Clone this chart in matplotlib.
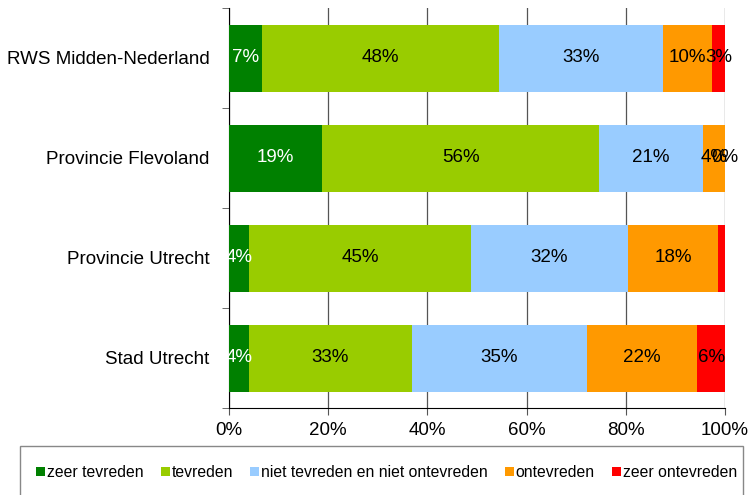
import matplotlib.pyplot as plt
from matplotlib.patches import Rectangle
import numpy as np

plt.rcParams['font.family'] = ['Liberation Sans', 'DejaVu Sans']

categories = ['RWS Midden-Nederland', 'Provincie Flevoland', 'Provincie Utrecht', 'Stad Utrecht']
series = ['zeer tevreden', 'tevreden', 'niet tevreden en niet ontevreden', 'ontevreden', 'zeer ontevreden']
values = [
    [6.6, 18.8, 4.0, 4.0],
    [47.8, 55.8, 44.8, 32.8],
    [33.1, 21.0, 31.6, 35.4],
    [9.9, 4.4, 18.2, 22.2],
    [2.6, 0.0, 1.4, 5.6],
]
colors = ['#008000', '#99cc00', '#99ccff', '#ff9900', '#ff0000']
label_colors = ['white', 'black', 'black', 'black', 'black']
show_label = [
    [True, True, True, True],
    [True, True, True, True],
    [True, True, True, True],
    [True, True, True, True],
    [True, True, False, True],
]

fig = plt.figure(figsize=(7.49, 4.95), dpi=100)
ax = fig.add_axes([229 / 749, (495 - 408) / 495, 496 / 749, 400 / 495])

y = np.arange(len(categories))
left = np.zeros(len(categories))
for i, name in enumerate(series):
    vals = np.array(values[i])
    ax.barh(y, vals, left=left, height=0.67, color=colors[i], label=name, zorder=3)
    for j, v in enumerate(vals):
        if show_label[i][j]:
            ax.text(left[j] + v / 2, y[j], f'{round(v):.0f}%', ha='center', va='center',
                    fontsize=13.5, color=label_colors[i], zorder=4)
    left += vals

ax.set_xlim(0, 100)
ax.set_ylim(len(categories) - 0.5, -0.5)
ax.set_xticks([0, 20, 40, 60, 80, 100])
ax.set_xticklabels(['0%', '20%', '40%', '60%', '80%', '100%'], fontsize=13.5)
ax.set_yticks(y)
ax.set_yticklabels(categories, fontsize=13.5)
ax.tick_params(axis='y', length=0, pad=14)
ax.set_yticks(np.arange(-0.5, len(categories), 1), minor=True)
ax.tick_params(axis='y', which='minor', length=5, color='#555555')
ax.tick_params(axis='x', length=5, color='#555555', pad=5)
ax.grid(axis='x', color='#555555', linewidth=0.9, zorder=0)
for s in ['top', 'right']:
    ax.spines[s].set_visible(False)
ax.spines['left'].set_color('black')
ax.spines['bottom'].set_color('black')

# legend box (open at the bottom edge, like the reference)
fig.patches.append(Rectangle((20 / 749, -3 / 495), 723 / 749, 52 / 495, transform=fig.transFigure,
                             facecolor='white', edgecolor='#888888', linewidth=1))
leg = fig.legend(loc='center left', bbox_to_anchor=(36 / 749, 22.5 / 495),
                 ncol=5, fontsize=11.3, frameon=False,
                 handlelength=0.57, handleheight=0.57, handletextpad=0.13, columnspacing=1.08,
                 borderaxespad=0, borderpad=0)

fig.savefig('out.png', dpi=100)
